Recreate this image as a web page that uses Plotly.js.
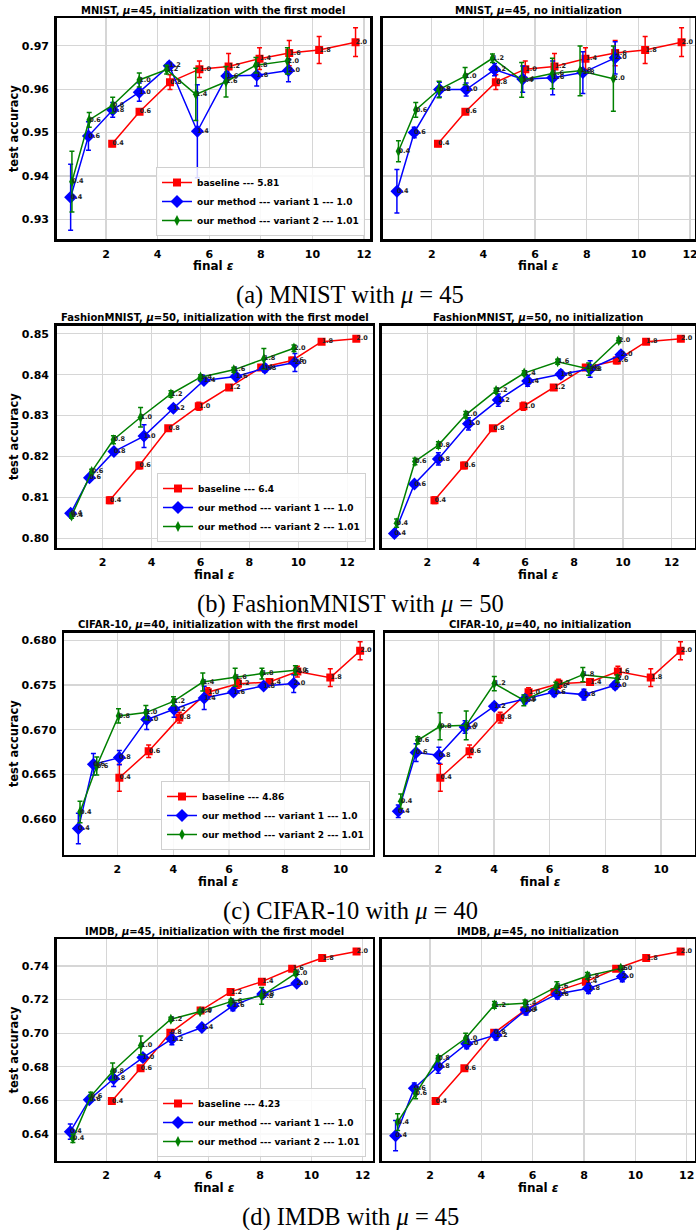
<!DOCTYPE html>
<html>
<head>
<meta charset="utf-8">
<script src="https://cdn.plot.ly/plotly-3.0.1.min.js"></script>
<style>html,body{margin:0;padding:0;background:#fff;}#chart{width:696px;height:1230px;}</style>
</head>
<body>
<div id="chart"></div>
<script>
// ---------------- DATA ----------------
const sigmaLabels = ["0.4","0.6","0.8","1.0","1.2","1.4","1.6","1.8","2.0"];
const legendBaselineValues = ["5.81","6.4","4.86","4.23"];
const legendVariant1Value = "1.0";
const legendVariant2Value = "1.01";

// MNIST
const mnistBaseX   = [2.24, 3.30, 4.48, 5.62, 6.75, 7.95, 9.10, 10.26, 11.67];
const mnistBaseY   = [0.9474, 0.9548, 0.9616, 0.9646, 0.9652, 0.9670, 0.9683, 0.9690, 0.9708];
const mnistBaseErr = [0.0006, 0.0006, 0.0017, 0.0019, 0.0030, 0.0025, 0.0029, 0.0031, 0.0033];
const mnistInitV1X   = [0.63, 1.32, 2.26, 3.29, 4.45, 5.54, 6.68, 7.84, 9.07];
const mnistInitV1Y   = [0.9351, 0.9492, 0.9552, 0.9593, 0.9654, 0.9503, 0.9630, 0.9632, 0.9643];
const mnistInitV1Err = [0.0076, 0.0033, 0.0017, 0.0021, 0.0008, 0.0107, 0.0010, 0.0025, 0.0026];
const mnistInitV2X   = [0.68, 1.35, 2.26, 3.29, 4.35, 5.48, 6.65, 7.81, 9.03];
const mnistInitV2Y   = [0.9387, 0.9529, 0.9563, 0.9621, 0.9645, 0.9588, 0.9617, 0.9655, 0.9665];
const mnistInitV2Err = [0.0070, 0.0017, 0.0018, 0.0016, 0.0010, 0.0060, 0.0035, 0.0018, 0.0030];
const mnistNoV1X   = [0.65, 1.32, 2.30, 3.33, 4.43, 5.52, 6.68, 7.85, 9.10];
const mnistNoV1Y   = [0.9365, 0.9500, 0.9599, 0.9599, 0.9645, 0.9623, 0.9626, 0.9638, 0.9672];
const mnistNoV1Err = [0.0050, 0.0012, 0.0017, 0.0015, 0.0014, 0.0030, 0.0039, 0.0048, 0.0037];
const mnistNoV2X   = [0.71, 1.38, 2.28, 3.29, 4.35, 5.48, 6.67, 7.74, 9.03];
const mnistNoV2Y   = [0.9457, 0.9552, 0.9599, 0.9630, 0.9671, 0.9621, 0.9636, 0.9642, 0.9624];
const mnistNoV2Err = [0.0024, 0.0017, 0.0019, 0.0020, 0.0010, 0.0040, 0.0035, 0.0057, 0.0075];

// FashionMNIST
const fashBaseX   = [2.29, 3.50, 4.68, 5.93, 7.17, 8.48, 9.75, 10.95, 12.37];
const fashBaseY   = [0.8093, 0.8178, 0.8269, 0.8323, 0.8369, 0.8418, 0.8435, 0.8481, 0.8488];
const fashBaseErr = [0.0008, 0.0008, 0.0006, 0.0010, 0.0005, 0.0006, 0.0008, 0.0004, 0.0005];
const fashInitV1X   = [0.69, 1.46, 2.46, 3.69, 4.89, 6.14, 7.45, 8.63, 9.86];
const fashInitV1Y   = [0.8061, 0.8148, 0.8212, 0.8250, 0.8318, 0.8386, 0.8396, 0.8416, 0.8430];
const fashInitV1Err = [0.0004, 0.0006, 0.0006, 0.0028, 0.0008, 0.0006, 0.0006, 0.0010, 0.0022];
const fashInitV2X   = [0.73, 1.55, 2.44, 3.55, 4.79, 6.00, 7.36, 8.59, 9.82];
const fashInitV2Y   = [0.8055, 0.8163, 0.8241, 0.8296, 0.8353, 0.8394, 0.8412, 0.8439, 0.8465];
const fashInitV2Err = [0.0006, 0.0006, 0.0010, 0.0024, 0.0008, 0.0006, 0.0006, 0.0025, 0.0008];
const fashNoV1X   = [0.65, 1.47, 2.45, 3.68, 4.90, 6.10, 7.46, 8.66, 9.92];
const fashNoV1Y   = [0.8012, 0.8133, 0.8194, 0.8280, 0.8338, 0.8385, 0.8401, 0.8414, 0.8449];
const fashNoV1Err = [0.0005, 0.0005, 0.0015, 0.0015, 0.0015, 0.0013, 0.0010, 0.0020, 0.0008];
const fashNoV2X   = [0.74, 1.49, 2.45, 3.57, 4.81, 5.96, 7.33, 8.60, 9.83];
const fashNoV2Y   = [0.8037, 0.8188, 0.8228, 0.8302, 0.8361, 0.8404, 0.8432, 0.8414, 0.8484];
const fashNoV2Err = [0.0010, 0.0008, 0.0008, 0.0008, 0.0006, 0.0006, 0.0006, 0.0015, 0.0006];

// CIFAR-10
const cifBaseX   = [2.07, 3.12, 4.22, 5.24, 6.32, 7.45, 8.45, 9.63, 10.70];
const cifBaseY   = [0.66464, 0.66760, 0.67136, 0.67419, 0.67514, 0.67534, 0.67650, 0.67583, 0.67883];
const cifBaseErr = [0.0015, 0.0007, 0.0006, 0.0005, 0.0005, 0.0003, 0.0006, 0.0010, 0.0010];
const cifInitV1X   = [0.60, 1.14, 2.07, 3.05, 4.03, 5.11, 6.16, 7.24, 8.32];
const cifInitV1Y   = [0.65896, 0.66614, 0.66689, 0.67114, 0.67229, 0.67356, 0.67423, 0.67490, 0.67516];
const cifInitV1Err = [0.0017, 0.0012, 0.0008, 0.0011, 0.0009, 0.0013, 0.0004, 0.0003, 0.0010];
const cifInitV2X   = [0.66, 1.26, 2.04, 3.02, 4.01, 5.06, 6.22, 7.18, 8.38];
const cifInitV2Y   = [0.66082, 0.66596, 0.67155, 0.67192, 0.67318, 0.67534, 0.67587, 0.67628, 0.67665];
const cifInitV2Err = [0.0012, 0.0010, 0.0008, 0.0008, 0.0005, 0.0010, 0.0010, 0.0006, 0.0005];
const cifNoV1X   = [0.56, 1.20, 2.02, 2.96, 4.01, 5.11, 6.16, 7.23, 8.35];
const cifNoV1Y   = [0.66089, 0.66745, 0.66715, 0.67032, 0.67263, 0.67341, 0.67423, 0.67393, 0.67497];
const cifNoV1Err = [0.0007, 0.0010, 0.0009, 0.0007, 0.0004, 0.0005, 0.0005, 0.0006, 0.0004];
const cifNoV2X   = [0.65, 1.26, 2.06, 3.00, 4.01, 5.07, 6.22, 7.19, 8.43];
const cifNoV2Y   = [0.66201, 0.66883, 0.67039, 0.67050, 0.67516, 0.67330, 0.67490, 0.67616, 0.67572];
const cifNoV2Err = [0.0008, 0.0004, 0.0015, 0.0016, 0.0008, 0.0006, 0.0004, 0.0008, 0.0004];

// IMDB
const imdbBaseX   = [2.22, 3.34, 4.50, 5.68, 6.85, 8.07, 9.25, 10.42, 11.76];
const imdbBaseY   = [0.6596, 0.6792, 0.7002, 0.7135, 0.7246, 0.7307, 0.7384, 0.7448, 0.7487];
const imdbBaseErr = [0.0012, 0.0012, 0.0010, 0.0008, 0.0008, 0.0008, 0.0008, 0.0005, 0.0005];
const imdbInitV1X   = [0.60, 1.34, 2.29, 3.43, 4.56, 5.73, 6.94, 8.10, 9.43];
const imdbInitV1Y   = [0.6414, 0.6604, 0.6729, 0.6855, 0.6966, 0.7034, 0.7164, 0.7234, 0.7297];
const imdbInitV1Err = [0.0045, 0.0015, 0.0046, 0.0020, 0.0035, 0.0012, 0.0030, 0.0015, 0.0015];
const imdbInitV2X   = [0.70, 1.40, 2.25, 3.35, 4.52, 5.66, 6.86, 8.06, 9.39];
const imdbInitV2Y   = [0.6374, 0.6624, 0.6772, 0.6927, 0.7083, 0.7129, 0.7188, 0.7222, 0.7356];
const imdbInitV2Err = [0.0025, 0.0025, 0.0050, 0.0056, 0.0012, 0.0012, 0.0012, 0.0050, 0.0012];
const imdbNoV1X   = [0.66, 1.39, 2.32, 3.43, 4.57, 5.74, 6.96, 8.17, 9.49];
const imdbNoV1Y   = [0.6390, 0.6673, 0.6802, 0.6937, 0.6990, 0.7139, 0.7234, 0.7267, 0.7337];
const imdbNoV1Err = [0.0090, 0.0030, 0.0040, 0.0030, 0.0030, 0.0030, 0.0030, 0.0030, 0.0030];
const imdbNoV2X   = [0.74, 1.44, 2.32, 3.39, 4.51, 5.70, 6.94, 8.13, 9.43];
const imdbNoV2Y   = [0.6471, 0.6640, 0.6851, 0.6970, 0.7168, 0.7178, 0.7277, 0.7341, 0.7386];
const imdbNoV2Err = [0.0050, 0.0030, 0.0015, 0.0030, 0.0020, 0.0020, 0.0030, 0.0020, 0.0012];

const panelTitles = [
  "MNIST, <i>μ</i>=45, initialization with the first model", "MNIST, <i>μ</i>=45, no initialization",
  "FashionMNIST, <i>μ</i>=50, initialization with the first model", "FashionMNIST, <i>μ</i>=50, no initialization",
  "CIFAR-10, <i>μ</i>=40, initialization with the first model", "CIFAR-10, <i>μ</i>=40, no initialization",
  "IMDB, <i>μ</i>=45, initialization with the first model", "IMDB, <i>μ</i>=45, no initialization"
];
const captions = ["(a) MNIST with <i>μ</i> = 45", "(b) FashionMNIST with <i>μ</i> = 50",
                  "(c) CIFAR-10 with <i>μ</i> = 40", "(d) IMDB with <i>μ</i> = 45"];
const yTickVals = [
  [0.93, 0.94, 0.95, 0.96, 0.97],
  [0.80, 0.81, 0.82, 0.83, 0.84, 0.85],
  [0.660, 0.665, 0.670, 0.675, 0.680],
  [0.64, 0.66, 0.68, 0.70, 0.72, 0.74]
];
const yTickFormats = [".2f", ".2f", ".3f", ".2f"];
const xTickVals = [[2,4,6,8,10,12],[2,4,6,8,10,12],[2,4,6,8,10],[2,4,6,8,10,12]];

// ---------------- LAYOUT GEOMETRY ----------------
const W = 696, H = 1230;
// pixel boxes of each plotting frame [left, right, top, bottom]
const boxes = [
  [56.7, 370.0, 18.3, 239.0], [382.7, 695.0, 18.3, 239.0],
  [56.7, 372.7, 325.7, 547.7], [381.7, 695.0, 325.7, 547.7],
  [64.0, 372.7, 632.7, 854.7], [385.0, 695.0, 632.7, 854.7],
  [56.7, 372.7, 939.3, 1160.7], [381.7, 695.0, 939.3, 1160.7]
];
const xRanges = [[0.09, 12.23],[0.10, 12.19],[0.12, 13.04],[0.13, 12.95],
                 [0.086, 11.15],[0.083, 11.22],[0.07, 12.39],[0.12, 12.32]];
const yRanges = [[0.9255, 0.9763],[0.7977, 0.8520],[0.65604, 0.68085],[0.6241, 0.7559]];
const legendBoxes = [[365, 236],[366, 542],[370, 850],[366, 1157]];

const datasets = [
  {base:[mnistBaseX,mnistBaseY,mnistBaseErr],
   init:[[mnistInitV1X,mnistInitV1Y,mnistInitV1Err],[mnistInitV2X,mnistInitV2Y,mnistInitV2Err]],
   no:[[mnistNoV1X,mnistNoV1Y,mnistNoV1Err],[mnistNoV2X,mnistNoV2Y,mnistNoV2Err]]},
  {base:[fashBaseX,fashBaseY,fashBaseErr],
   init:[[fashInitV1X,fashInitV1Y,fashInitV1Err],[fashInitV2X,fashInitV2Y,fashInitV2Err]],
   no:[[fashNoV1X,fashNoV1Y,fashNoV1Err],[fashNoV2X,fashNoV2Y,fashNoV2Err]]},
  {base:[cifBaseX,cifBaseY,cifBaseErr],
   init:[[cifInitV1X,cifInitV1Y,cifInitV1Err],[cifInitV2X,cifInitV2Y,cifInitV2Err]],
   no:[[cifNoV1X,cifNoV1Y,cifNoV1Err],[cifNoV2X,cifNoV2Y,cifNoV2Err]]},
  {base:[imdbBaseX,imdbBaseY,imdbBaseErr],
   init:[[imdbInitV1X,imdbInitV1Y,imdbInitV1Err],[imdbInitV2X,imdbInitV2Y,imdbInitV2Err]],
   no:[[imdbNoV1X,imdbNoV1Y,imdbNoV1Err],[imdbNoV2X,imdbNoV2Y,imdbNoV2Err]]}
];

const FONT = "DejaVu Sans";
const styles = [
  {color:"#ff0000", symbol:"square", size:8},
  {color:"#0000ff", symbol:"diamond", size:10},
  {color:"#008000", symbol:"diamond-tall", size:8}
];

const traces = [];
const labelTraces = [];
const layout = {
  width: W, height: H,
  margin: {l:0, r:0, t:0, b:0},
  paper_bgcolor: "#fff", plot_bgcolor: "#fff",
  showlegend: true,
  annotations: [],
  font: {family: FONT, color: "#000"}
};

function mkTrace(series, st, xa, ya, name, legendId, show) {
  return {
    type: "scatter", mode: "lines+markers",
    x: series[0], y: series[1],
    error_y: {type: "data", array: series[2], visible: true, color: st.color, thickness: 1.5, width: 2.5},
    line: {color: st.color, width: 1.5},
    marker: {color: st.color, symbol: st.symbol, size: st.size, line: {width: 0}},
    xaxis: xa, yaxis: ya, name: name, legend: legendId, showlegend: show,
    hoverinfo: "skip"
  };
}
function mkLabels(series, xa, ya) {
  return {
    type: "scatter", mode: "text",
    x: series[0], y: series[1], text: sigmaLabels,
    textposition: "middle right",
    textfont: {family: FONT, size: 6.5, weight: "bold", color: "#222"},
    marker: {size: 3},
    xaxis: xa, yaxis: ya, showlegend: false, hoverinfo: "skip"
  };
}

for (let p = 0; p < 8; p++) {
  const row = Math.floor(p / 2), isLeft = (p % 2 === 0);
  const [l, r, t, b] = boxes[p];
  const idx = p + 1;
  const xKey = "xaxis" + (idx === 1 ? "" : idx), yKey = "yaxis" + (idx === 1 ? "" : idx);
  const xa = "x" + (idx === 1 ? "" : idx), ya = "y" + (idx === 1 ? "" : idx);
  layout[xKey] = {
    domain: [l / W, r / W], range: xRanges[p], anchor: ya,
    tickmode: "array", tickvals: xTickVals[row],
    showgrid: true, gridcolor: "#d6d6d6", gridwidth: 1.2, zeroline: false,
    showline: true, mirror: true, linecolor: "#000", linewidth: 2.5,
    ticks: "outside", ticklen: 3, tickcolor: "rgba(0,0,0,0)",
    ticklabeloverflow: "allow",
    tickfont: {family: FONT, size: 11, weight: "bold", color: "#000"}
  };
  layout[yKey] = {
    domain: [1 - b / H, 1 - t / H], range: yRanges[row], anchor: xa,
    tickmode: "array", tickvals: yTickVals[row], tickformat: yTickFormats[row],
    showticklabels: isLeft,
    showgrid: true, gridcolor: "#d6d6d6", gridwidth: 1.2, zeroline: false,
    showline: true, mirror: true, linecolor: "#000", linewidth: 2.5,
    ticks: "outside", ticklen: 3, tickcolor: "rgba(0,0,0,0)",
    tickfont: {family: FONT, size: 11, weight: "bold", color: "#000"}
  };
  const ds = datasets[row];
  const legendId = "legend" + (row === 0 ? "" : row + 1);
  const vars = isLeft ? ds.init : ds.no;
  traces.push(mkTrace(ds.base, styles[0], xa, ya, "baseline --- " + legendBaselineValues[row], legendId, isLeft));
  traces.push(mkTrace(vars[0], styles[1], xa, ya, "our method --- variant 1 --- " + legendVariant1Value, legendId, isLeft));
  traces.push(mkTrace(vars[1], styles[2], xa, ya, "our method --- variant 2 --- " + legendVariant2Value, legendId, isLeft));
  labelTraces.push(mkLabels(ds.base, xa, ya));
  labelTraces.push(mkLabels(vars[0], xa, ya));
  labelTraces.push(mkLabels(vars[1], xa, ya));

  // subplot title
  layout.annotations.push({
    xref: "paper", yref: "paper", x: (l + r) / 2 / W, y: 1 - (t - 8) / H,
    xanchor: "center", yanchor: "middle", showarrow: false, text: "<b>" + panelTitles[p] + "</b>",
    font: {family: FONT, size: 10, color: "#000"}
  });
  // x axis title
  layout.annotations.push({
    xref: "paper", yref: "paper", x: (l + r) / 2 / W, y: 1 - (b + 27) / H,
    xanchor: "center", yanchor: "middle", showarrow: false, text: "<b>final <i>ε</i></b>",
    font: {family: FONT, size: 12, color: "#000"}
  });
  if (isLeft) {
    layout.annotations.push({
      xref: "paper", yref: "paper", x: 13.5 / W, y: 1 - ((t + b) / 2) / H,
      xanchor: "center", yanchor: "middle", showarrow: false, textangle: -90,
      text: "<b>test accuracy</b>", font: {family: FONT, size: 11.5, color: "#000"}
    });
    const lb = legendBoxes[row];
    layout[legendId] = {
      x: lb[0] / W, xanchor: "right", y: 1 - lb[1] / H, yanchor: "bottom",
      bgcolor: "rgba(255,255,255,0.85)", bordercolor: "#d0d0d0", borderwidth: 1,
      font: {family: FONT, size: 9, weight: "bold", color: "#000"},
      itemwidth: 30, tracegroupgap: 0
    };
    // caption
    layout.annotations.push({
      xref: "paper", yref: "paper", x: 350 / W, y: 1 - (b + 56) / H,
      xanchor: "center", yanchor: "middle", showarrow: false, text: captions[row],
      font: {family: "Liberation Serif", size: 24.5, color: "#000"}
    });
  }
}

Plotly.newPlot("chart", traces.concat(labelTraces), layout, {displayModeBar: false, staticPlot: true});
</script>
</body>
</html>
